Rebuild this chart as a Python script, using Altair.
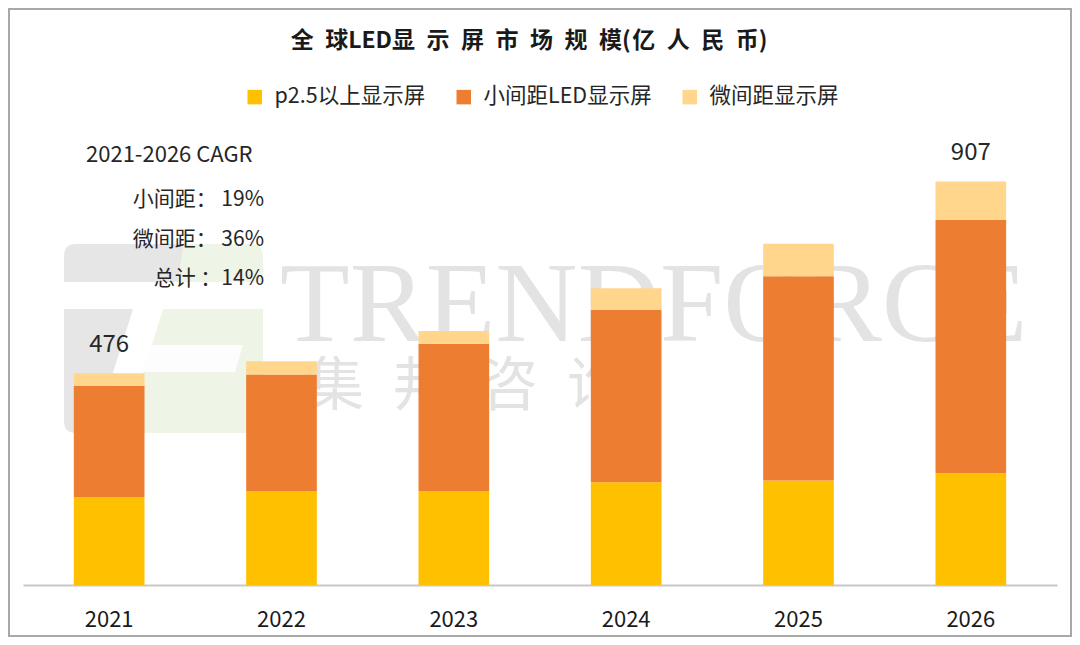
import altair as alt
import pandas as pd

# ---------------- data ----------------
years = ["2021", "2022", "2023", "2024", "2025", "2026"]
series_names = ["p2.5以上显示屏", "小间距LED显示屏", "微间距显示屏"]
p25_values = [198, 211, 211, 231, 235, 251]
small_pitch_values = [250, 262, 331, 387, 459, 570]
micro_pitch_values = [28, 30, 29, 49, 73, 86]
series_colors = ["#FFC000", "#ED7D31", "#FFD68C"]
label_years = ["2021", "2026"]
label_totals = [476, 907]

SP = "\u2002"
title_text = "全{s}球LED显{s}示{s}屏{s}市{s}场{s}规{s}模(\u200a亿{s}人{s}民{s}币)".format(s=SP)
cagr_heading = "2021-2026 CAGR"
cagr_lines = ["小间距： 19%", "微间距： 36%", "总计 ：14%"]
watermark_en = "TRENDFORCE"
watermark_cn = "集\u2002邦\u2002咨\u2002询"

# ---------------- tables ----------------
rows = []
for i, yr in enumerate(years):
    for k, (name, vals) in enumerate(
        zip(series_names, [p25_values, small_pitch_values, micro_pitch_values])
    ):
        rows.append({"year": yr, "series": name, "value": vals[i], "order": k})
df = pd.DataFrame(rows)
totals_df = pd.DataFrame({"year": label_years, "total": label_totals})
one = pd.DataFrame({"a": [0]})

FONT = "Noto Sans CJK SC"
W, H = 1034, 445
PL, PT, PR, PB = 15, 132, 15, 52
OX, OY = 23, 140  # plot origin in page pixels

x_enc = alt.X(
    "year:N",
    sort=years,
    scale=alt.Scale(domain=years, paddingInner=0.59, paddingOuter=0.295),
    title=None,
)
y_scale = alt.Scale(domain=[0, 1000])

# ---------------- decorations (faint logo watermark) ----------------
def shape(path, color):
    # custom symbol with size 4 -> path units are pixels; anchored at page (0,0)
    return alt.Chart(one).mark_point(
        shape=path, size=4, filled=True, color=color, opacity=1, strokeWidth=0
    ).encode(x=alt.value(-OX), y=alt.value(-OY))

logo_gray = "#e6e6e6"
logo_green = "#eef4e6"
logo = alt.layer(
    shape("M64,256 Q64,244 76,244 L184,244 L178,282 L64,282 Z", logo_gray),
    shape("M64,309 L133,309 L94,433 L76,433 Q64,433 64,421 Z", logo_gray),
    shape("M184,244 L251,244 Q263,244 263,256 L263,282 L178,282 Z", logo_green),
    shape("M163,309 L263,309 L263,421 Q263,433 251,433 L125,433 Z", logo_green),
    shape("M151,345 L243,345 L235,372 L142,372 Z", "#fdfdfd"),
)

wm_en = alt.Chart(one).mark_text(
    text=watermark_en, font="Liberation Serif", fontSize=114, color="#e3e3e3",
    align="left", baseline="alphabetic",
).encode(x=alt.value(280 - OX), y=alt.value(341 - OY))

wm_cn = alt.Chart(one).mark_text(
    text=watermark_cn, font=FONT, fontSize=58, color="#e3e3e3",
    align="left", baseline="middle",
).encode(x=alt.value(306 - OX), y=alt.value(388 - OY))

frame = alt.Chart(one).mark_rect(
    filled=False, stroke="#a8a8a8", strokeWidth=2
).encode(
    x=alt.value(-PL + 1), x2=alt.value(W + PR - 1),
    y=alt.value(-PT + 1), y2=alt.value(H + PB - 1),
)

# ---------------- bars ----------------
bars = alt.Chart(df).mark_bar().encode(
    x=x_enc,
    y=alt.Y("value:Q", stack="zero", scale=y_scale, axis=None),
    color=alt.Color(
        "series:N",
        scale=alt.Scale(domain=series_names, range=series_colors),
        legend=alt.Legend(
            orient="none", legendX=221, legendY=-54, direction="horizontal",
            title=None, symbolType="square", symbolSize=210, symbolStrokeWidth=0,
            labelFont=FONT, labelFontSize=21.5, labelColor="#262626",
            columnPadding=27, labelOffset=9, labelLimit=400,
        ),
    ),
    order=alt.Order("order:Q", sort="ascending"),
)

total_labels = alt.Chart(totals_df).mark_text(
    font=FONT, fontSize=24, color="#262626", baseline="alphabetic", dy=-21
).encode(
    x=x_enc,
    y=alt.Y("total:Q", scale=y_scale, axis=None),
    text=alt.Text("total:Q"),
)

title = alt.Chart(one).mark_text(
    text=title_text, font=FONT, fontSize=23, fontWeight="bold", color="#1a1a1a",
    align="center", baseline="middle",
).encode(x=alt.value(529 - OX), y=alt.value(41 - OY))

cagr_head = alt.Chart(one).mark_text(
    text=cagr_heading, font=FONT, fontSize=22, color="#262626",
    align="left", baseline="middle",
).encode(x=alt.value(86 - OX), y=alt.value(155 - OY))

cagr_layers = []
for line, ypage in zip(cagr_lines, [200, 240, 279]):
    cagr_layers.append(
        alt.Chart(one).mark_text(
            text=line, font=FONT, fontSize=21, color="#262626",
            align="right", baseline="middle",
        ).encode(x=alt.value(264 - OX), y=alt.value(ypage - OY))
    )

chart = alt.layer(
    logo, wm_en, wm_cn, bars, total_labels, title, cagr_head, *cagr_layers, frame
).properties(
    width=W, height=H,
    padding={"left": PL, "top": PT, "right": PR, "bottom": PB},
    autosize=alt.AutoSizeParams(type="none"),
    background="white",
).configure_view(stroke=None).configure_axisX(
    labelFont=FONT, labelFontSize=22, labelColor="#1a1a1a", labelAngle=0,
    domainColor="#c8c8c8", domainWidth=2, ticks=False, tickSize=0,
    labelPadding=24, grid=False,
)

chart.save("out.html", embed_options={"renderer": "svg", "actions": False})
